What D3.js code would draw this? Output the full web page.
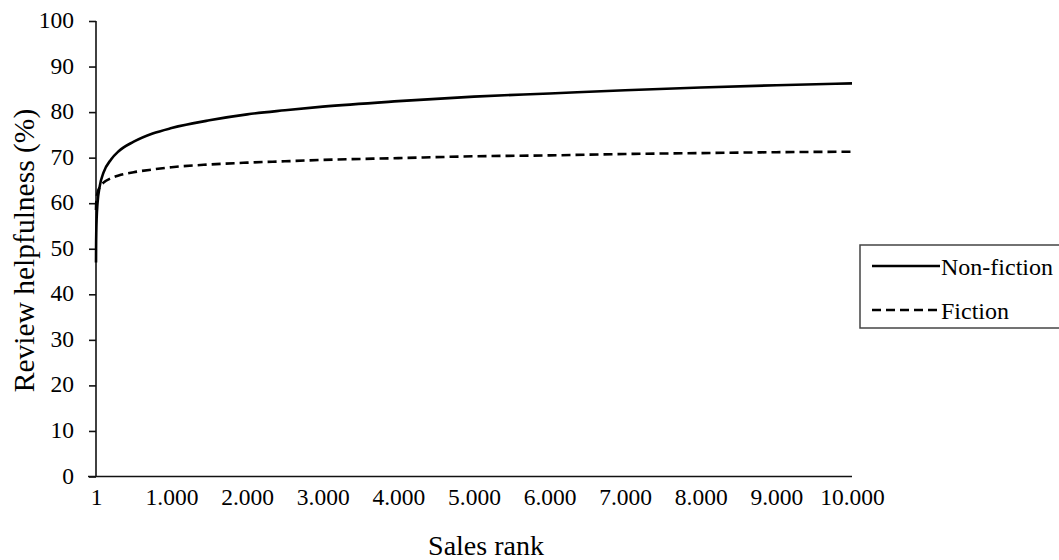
<!DOCTYPE html>
<html><head><meta charset="utf-8">
<script src="https://cdn.jsdelivr.net/npm/d3@7"></script>
<style>
html,body{margin:0;padding:0;background:#fff;}
text{font-family:"Liberation Serif","Times New Roman",serif;fill:#000;}
</style></head>
<body>
<svg id="chart" width="1059" height="560"></svg>
<script>
// Sales rank sample points
const salesRank = [1, 2, 5, 10, 20, 50, 100, 200, 300, 500, 750, 1000, 1500, 2000, 2500, 3000, 4000, 5000, 6000, 7000, 8000, 9000, 10000];
// Review helpfulness (%) for each series
const nonFiction = [47.0, 50.0, 53.9, 56.8, 59.8, 63.7, 66.7, 69.6, 71.4, 73.5, 75.3, 76.5, 78.2, 79.5, 80.4, 81.2, 82.4, 83.4, 84.1, 84.8, 85.4, 85.9, 86.3];
const fiction    = [58.5, 59.3, 60.4, 61.3, 62.2, 63.5, 64.5, 65.5, 66.1, 66.8, 67.4, 67.9, 68.5, 68.9, 69.2, 69.5, 69.9, 70.3, 70.5, 70.8, 71.0, 71.2, 71.3];
const seriesNames = ["Non-fiction", "Fiction"];
const xTicks = [1, 1000, 2000, 3000, 4000, 5000, 6000, 7000, 8000, 9000, 10000];
const yTicks = [0, 10, 20, 30, 40, 50, 60, 70, 80, 90, 100];
const xTitle = "Sales rank";
const yTitle = "Review helpfulness (%)";

const svg = d3.select("#chart");
const x = d3.scaleLinear().domain([1, 10000]).range([96, 852]);
const y = d3.scaleLinear().domain([0, 100]).range([476.5, 21]);
const loc = d3.formatLocale({decimal: ",", thousands: ".", grouping: [3], currency: ["", ""]});
const fmt = loc.format(",d");

// Y axis
const yAxis = svg.append("g").attr("transform", "translate(96,0)")
  .call(d3.axisLeft(y).tickValues(yTicks).tickSize(7).tickPadding(15).tickFormat(d3.format("d")))
  .attr("font-family", null);
yAxis.select(".domain").attr("stroke", "#111").attr("stroke-width", 1.6).attr("d", `M0,${y(100)}V${y(0)}`);
yAxis.selectAll(".tick line").attr("stroke", "#111").attr("stroke-width", 1.6);
yAxis.selectAll(".tick text").attr("font-size", 23.5).attr("dy", "0.28em").attr("fill", "#000");

// X axis
const xAxis = svg.append("g").attr("transform", `translate(0,${y(0)})`)
  .call(d3.axisBottom(x).tickValues(xTicks).tickSize(0).tickPadding(12).tickFormat(fmt))
  .attr("font-family", null);
xAxis.select(".domain").attr("stroke", "#111").attr("stroke-width", 1.6).attr("d", `M88,0H${x(10000)}`);
xAxis.selectAll(".tick text").attr("font-size", 23.5).attr("fill", "#000");

// Axis titles
svg.append("text").attr("x", 486).attr("y", 555).attr("text-anchor", "middle")
  .attr("font-size", 28).text(xTitle);
svg.append("text").attr("transform", "translate(34,250.5) rotate(-90)").attr("text-anchor", "middle")
  .attr("font-size", 29.5).text(yTitle);

// Lines
const line = d3.line().x(d => x(d[0])).y(d => y(d[1])).curve(d3.curveMonotoneX);
const seriesData = [nonFiction, fiction];
const dashes = [null, "9,5"];
seriesData.forEach((vals, i) => {
  svg.append("path")
    .datum(salesRank.map((r, j) => [r, vals[j]]))
    .attr("fill", "none").attr("stroke", "#000").attr("stroke-width", 2.6)
    .attr("stroke-dasharray", dashes[i])
    .attr("d", line);
});

// Legend
const lg = svg.append("g");
lg.append("rect").attr("x", 860).attr("y", 245).attr("width", 220).attr("height", 83)
  .attr("fill", "#fff").attr("stroke", "#444").attr("stroke-width", 1.5);
const ly = [266, 310];
seriesNames.forEach((name, i) => {
  lg.append("line").attr("x1", 872).attr("x2", 940).attr("y1", ly[i]).attr("y2", ly[i])
    .attr("stroke", "#000").attr("stroke-width", 2.6).attr("stroke-dasharray", dashes[i]);
  lg.append("text").attr("x", 941).attr("y", ly[i] + 9).attr("font-size", 24).text(name);
});
</script>
</body></html>
